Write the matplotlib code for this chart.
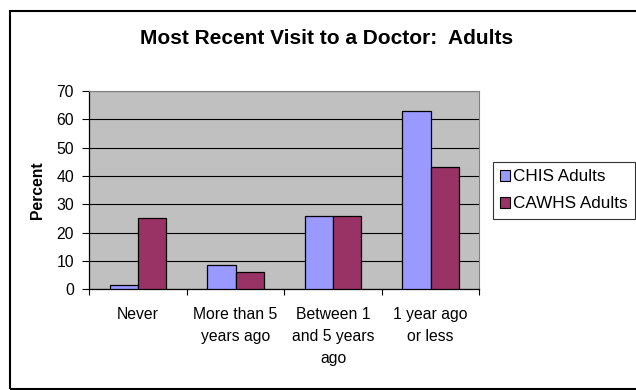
import matplotlib
matplotlib.use("Agg")
import matplotlib.pyplot as plt
from matplotlib.patches import Rectangle, Patch
import numpy as np

plt.rcParams['font.family'] = ['Liberation Sans', 'DejaVu Sans']

categories = ["Never", "More than 5\nyears ago", "Between 1\nand 5 years\nago", "1 year ago\nor less"]
series_names = ["CHIS Adults", "CAWHS Adults"]
chis = [1.5, 8.6, 26, 63]
cawhs = [25, 6, 26, 43]
yticks = [0, 10, 20, 30, 40, 50, 60, 70]
colors = ["#9999FF", "#993366"]

W, H = 636, 390
FS = 11.3
fig = plt.figure(figsize=(W/100, H/100), dpi=100)
fig.patch.set_facecolor("white")

# outer chart border
fig.patches.append(Rectangle((10/W, 1-389/H), 700/W, 378/H, transform=fig.transFigure,
                             fill=False, edgecolor="black", linewidth=1.5, clip_on=False))

ax = fig.add_axes([89.3/W, 1-289.3/H, 390/W, 198.3/H])
ax.set_facecolor("#C0C0C0")

x = np.arange(len(categories))
bw = 0.29
ax.bar(x - bw/2, chis, bw, color=colors[0], edgecolor="black", linewidth=0.9, zorder=3)
ax.bar(x + bw/2, cawhs, bw, color=colors[1], edgecolor="black", linewidth=0.9, zorder=3)

ax.set_xlim(-0.5, len(categories) - 0.5)
ax.set_ylim(0, 70)
ax.set_yticks(yticks)
ax.set_yticklabels([str(v) for v in yticks], fontsize=FS)
ax.yaxis.grid(True, color="black", linewidth=0.8, zorder=1)
ax.set_axisbelow(True)

ax.set_xticks(np.arange(-0.5, len(categories), 1.0))
ax.set_xticklabels([])
ax.set_xticks(x, minor=True)
ax.set_xticklabels(categories, minor=True, fontsize=FS, linespacing=1.55)
ax.tick_params(axis="x", which="minor", length=0, pad=13)
ax.tick_params(axis="x", which="major", length=4, width=0.8, direction="out")
ax.tick_params(axis="y", length=5, width=0.8, direction="out", pad=6)

for s in ["top", "right"]:
    ax.spines[s].set_color("#808080")
    ax.spines[s].set_linewidth(0.8)
for s in ["left", "bottom"]:
    ax.spines[s].set_color("black")
    ax.spines[s].set_linewidth(0.9)

ax.set_ylabel("Percent", fontsize=FS, fontweight="bold", labelpad=8)

fig.text(327/W, 1-39/H, "Most Recent Visit to a Doctor:  Adults", ha="center", va="center",
         fontsize=15, fontweight="bold")

handles = [Patch(facecolor=colors[i], edgecolor="black", linewidth=0.8) for i in range(2)]
leg = fig.legend(handles, series_names, loc="upper left", bbox_to_anchor=(493/W, 1-162/H),
                 fontsize=12.3, frameon=True, fancybox=False, handlelength=0.6, handleheight=0.6,
                 handletextpad=0.15, labelspacing=0.72, borderpad=0.42, borderaxespad=0)
leg.get_frame().set_edgecolor("black")
leg.get_frame().set_linewidth(0.8)

fig.savefig("out.png", dpi=100)
